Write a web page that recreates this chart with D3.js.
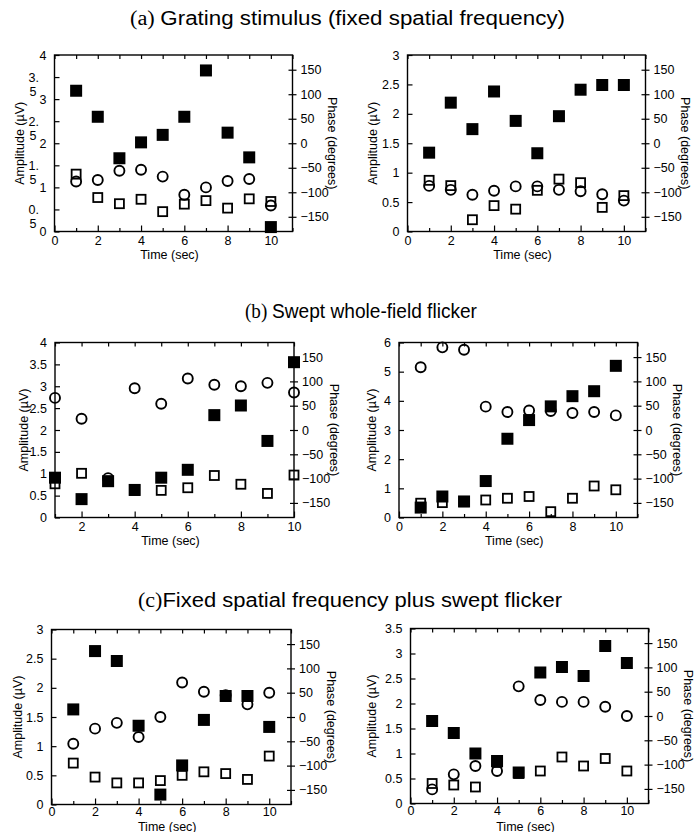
<!DOCTYPE html>
<html>
<head>
<meta charset="utf-8">
<script src="https://cdn.jsdelivr.net/npm/d3@7"></script>
<style>
  body { margin: 0; background: #fff; }
  svg { display: block; }
  text { font-family: "Liberation Sans", Arial, Helvetica, sans-serif; fill: #000; }
</style>
</head>
<body>
<svg id="chart" width="694" height="832"></svg>
<script>
// time axis (sec)
var time = [1, 2, 3, 4, 5, 6, 7, 8, 9, 10];

// (a) grating stimulus
var gratingAmpL   = [3.19, 2.60, 1.66, 2.02, 2.19, 2.60, 3.65, 2.24, 1.68, 0.10];
var gratingNoiseL = [1.30, 0.77, 0.63, 0.73, 0.45, 0.62, 0.70, 0.53, 0.74, 0.68];
var gratingPhaseL = [-78, -75, -56, -54, -68, -105, -90, -77, -73, -127];
var gratingAmpR   = [1.34, 2.19, 1.74, 2.38, 1.88, 1.33, 1.96, 2.41, 2.49, 2.49];
var gratingNoiseR = [0.87, 0.78, 0.20, 0.44, 0.38, 0.70, 0.89, 0.83, 0.41, 0.61];
var gratingPhaseR = [-87, -95, -105, -97, -88, -88, -95, -98, -104, -117];

// (b) swept whole-field flicker
var flickerAmpL   = [0.91, 0.42, 0.83, 0.63, 0.91, 1.09, 2.34, 2.56, 1.75, 3.55];
var flickerNoiseL = [0.77, 1.01, 0.83, 0.62, 0.62, 0.68, 0.96, 0.76, 0.55, 0.97];
var flickerPhaseL = [66, 23, -99, 86, 54, 106, 93, 90, 97, 77];
var flickerAmpR   = [0.34, 0.72, 0.55, 1.25, 2.70, 3.34, 3.81, 4.16, 4.33, 5.20];
var flickerNoiseR = [0.49, 0.51, 0.54, 0.60, 0.66, 0.72, 0.20, 0.66, 1.08, 0.95];
var flickerPhaseR = [129, 170, 165, 48, 37, 40, 39, 35, 37, 30];

// (c) fixed spatial frequency plus swept flicker
var comboAmpL   = [1.63, 2.63, 2.46, 1.35, 0.17, 0.67, 1.45, 1.86, 1.86, 1.33];
var comboNoiseL = [0.71, 0.47, 0.37, 0.37, 0.41, 0.50, 0.56, 0.53, 0.43, 0.83];
var comboPhaseL = [-55, -24, -12, -41, 0, 71, 52, 45, 26, 50];
var comboAmpR   = [1.65, 1.41, 1.00, 0.85, 0.62, 2.62, 2.73, 2.55, 3.15, 2.81];
var comboNoiseR = [0.40, 0.37, 0.33, 0.82, 0.60, 0.65, 0.93, 0.75, 0.90, 0.65];
var comboPhaseR = [-151, -120, -103, -113, 61, 33, 29, 29, 19, 0];

var phaseTicks = [-150, -100, -50, 0, 50, 100, 150];

var svg = d3.select("#chart");
var fontSize = 12.5;

// section titles (serif letter tag + sans text)
var titles = [
  { x: 130, y: 25, w: 435, tag: "(a) ", text: "Grating stimulus (fixed spatial frequency)" },
  { x: 245, y: 318, w: 232, tag: "(b) ", text: "Swept whole-field flicker" },
  { x: 138, y: 607, w: 424, tag: "(c)", text: "Fixed spatial frequency plus swept flicker" }
];
titles.forEach(function (t) {
  var txt = svg.append("text")
    .attr("x", t.x)
    .attr("y", t.y)
    .attr("textLength", t.w)
    .attr("lengthAdjust", "spacingAndGlyphs")
    .style("font-size", "20px");
  txt.append("tspan")
    .style("font-family", "'Liberation Serif', 'Times New Roman', serif")
    .text(t.tag);
  txt.append("tspan").text(t.text);
});

var panels = [
  { left: 54.5, right: 292.5, top: 55, bottom: 231.5, xDomain: [0, 11], xLabels: [0, 2, 4, 6, 8, 10],
    ampMax: 4, ampStep: 0.5, split: true, ampOff: -34.5,
    amp: gratingAmpL, noise: gratingNoiseL, phase: gratingPhaseL },
  { left: 407.5, right: 645.5, top: 55, bottom: 231.5, xDomain: [0, 11], xLabels: [0, 2, 4, 6, 8, 10],
    ampMax: 3, ampStep: 0.5, ampOff: -34.5,
    amp: gratingAmpR, noise: gratingNoiseR, phase: gratingPhaseR },
  { left: 55, right: 294, top: 342.5, bottom: 517.5, xDomain: [1, 10], xLabels: [2, 4, 6, 8, 10],
    ampMax: 4, ampStep: 0.5, ampOff: -31,
    amp: flickerAmpL, noise: flickerNoiseL, phase: flickerPhaseL },
  { left: 399, right: 637.5, top: 342.5, bottom: 517.5, xDomain: [0, 11], xLabels: [0, 2, 4, 6, 8, 10],
    ampMax: 6, ampStep: 1, ampOff: -27,
    amp: flickerAmpR, noise: flickerNoiseR, phase: flickerPhaseR },
  { left: 51.5, right: 291, top: 629.5, bottom: 804.5, xDomain: [0, 11], xLabels: [0, 2, 4, 6, 8, 10],
    ampMax: 3, ampStep: 0.5, ampOff: -34, tight: true,
    amp: comboAmpL, noise: comboNoiseL, phase: comboPhaseL },
  { left: 410.5, right: 648.5, top: 628.5, bottom: 803.5, xDomain: [0, 11], xLabels: [0, 2, 4, 6, 8, 10],
    ampMax: 3.5, ampStep: 0.5, ampOff: -39, tight: true,
    amp: comboAmpR, noise: comboNoiseR, phase: comboPhaseR }
];

panels.forEach(drawPanel);

function drawPanel(p) {
  var x = d3.scaleLinear().domain(p.xDomain).range([p.left, p.right]);
  var yAmp = d3.scaleLinear().domain([0, p.ampMax]).range([p.bottom, p.top]);
  var yPh = d3.scaleLinear().domain([-180, 180]).range([p.bottom, p.top]);

  var ints = d3.range(Math.ceil(p.xDomain[0]), Math.floor(p.xDomain[1]) + 1);
  var ampTicks = d3.range(0, p.ampMax + 0.001, p.ampStep);

  var g = svg.append("g");

  // bottom: labelled major ticks, short minor ticks
  g.append("g")
    .attr("transform", "translate(0," + p.bottom + ")")
    .call(d3.axisBottom(x).tickValues(p.xLabels).tickSize(-6).tickPadding(p.tight ? 3 : 5)
      .tickFormat(d3.format("d")))
    .call(styleAxis);
  g.append("g")
    .attr("transform", "translate(0," + p.bottom + ")")
    .call(d3.axisBottom(x).tickValues(ints.filter(function (d) { return p.xLabels.indexOf(d) < 0; }))
      .tickSize(-3.5).tickFormat(""))
    .call(styleAxis);
  // top ticks
  g.append("g")
    .attr("transform", "translate(0," + p.top + ")")
    .call(d3.axisTop(x).tickValues(ints).tickSize(-4).tickFormat(""))
    .call(styleAxis);

  // left amplitude axis
  var leftAx = g.append("g")
    .attr("transform", "translate(" + p.left + ",0)")
    .call(d3.axisLeft(yAmp).tickValues(ampTicks).tickSize(-5).tickPadding(8)
      .tickFormat(function (d) { return d3.format("~g")(d); }))
    .call(styleAxis);

  if (p.split) {
    // narrow label box: half values wrap onto two lines
    leftAx.selectAll(".tick text").each(function (d) {
      if (d % 1 === 0) return;
      var t = d3.select(this);
      var parts = d3.format("~g")(d).split(".");
      t.text(null).attr("text-anchor", "start").attr("x", -26);
      t.append("tspan").attr("x", -26).text(parts[0] + ".");
      t.append("tspan").attr("x", -25).attr("dy", "1.15em").text(parts[1]);
    });
  }

  // right phase axis (ticks cross the frame)
  g.append("g")
    .attr("transform", "translate(" + p.right + ",0)")
    .call(d3.axisRight(yPh).tickValues(phaseTicks).tickSize(4).tickPadding(4))
    .call(styleAxis);
  g.append("g")
    .attr("transform", "translate(" + p.right + ",0)")
    .call(d3.axisRight(yPh).tickValues(phaseTicks).tickSize(-4).tickFormat(""))
    .call(styleAxis);

  // frame
  g.append("rect")
    .attr("x", p.left)
    .attr("y", p.top)
    .attr("width", p.right - p.left)
    .attr("height", p.bottom - p.top)
    .attr("fill", "none")
    .attr("stroke", "#000")
    .attr("stroke-width", 1.4);

  // axis titles
  var midY = (p.top + p.bottom) / 2;
  g.append("text")
    .attr("transform", "translate(" + (p.left + p.ampOff) + "," + midY + ") rotate(-90)")
    .attr("text-anchor", "middle")
    .attr("dy", "0.35em")
    .style("font-size", fontSize + "px")
    .text("Amplitude (\u00B5V)");
  g.append("text")
    .attr("transform", "translate(" + (p.right + 40) + "," + midY + ") rotate(90)")
    .attr("text-anchor", "middle")
    .attr("dy", "0.35em")
    .style("font-size", fontSize + "px")
    .text("Phase (degrees)");
  g.append("text")
    .attr("x", (x(0) + x(11)) / 2 - 4)
    .attr("y", p.tight ? 830.5 : p.bottom + 27.5)
    .attr("text-anchor", "middle")
    .style("font-size", fontSize + "px")
    .text("Time (sec)");

  // markers
  var fs = 12, os = 9, cr = 5;
  g.append("g").selectAll("rect")
    .data(time)
    .enter()
    .append("rect")
    .attr("x", function (d) { return x(d) - fs / 2; })
    .attr("y", function (d, i) { return yAmp(p.amp[i]) - fs / 2; })
    .attr("width", fs)
    .attr("height", fs)
    .attr("fill", "#000");

  g.append("g").selectAll("rect")
    .data(time)
    .enter()
    .append("rect")
    .attr("x", function (d) { return x(d) - os / 2; })
    .attr("y", function (d, i) { return yAmp(p.noise[i]) - os / 2; })
    .attr("width", os)
    .attr("height", os)
    .attr("fill", "none")
    .attr("stroke", "#000")
    .attr("stroke-width", 1.8);

  g.append("g").selectAll("circle")
    .data(time)
    .enter()
    .append("circle")
    .attr("cx", function (d) { return x(d); })
    .attr("cy", function (d, i) { return yPh(p.phase[i]); })
    .attr("r", cr)
    .attr("fill", "none")
    .attr("stroke", "#000")
    .attr("stroke-width", 1.9);
}

function styleAxis(sel) {
  sel.select(".domain").remove();
  sel.selectAll(".tick line").attr("stroke", "#000").attr("stroke-width", 1.2);
  sel.selectAll(".tick text")
    .style("font-size", fontSize + "px")
    .style("font-family", "'Liberation Sans', Arial, sans-serif")
    .attr("fill", "#000");
}
</script>
</body>
</html>
